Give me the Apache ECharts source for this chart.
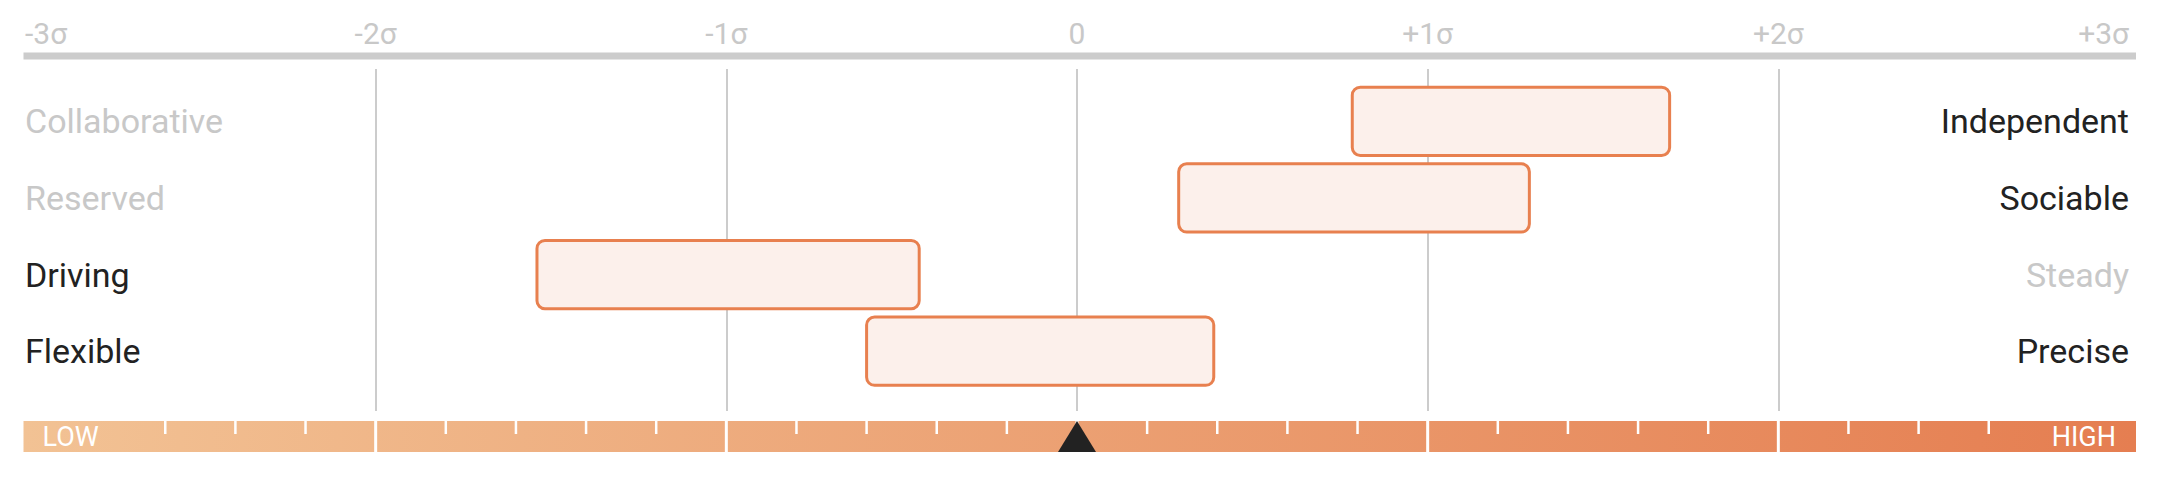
<!DOCTYPE html>
<html><head><meta charset="utf-8">
<script src="https://cdn.jsdelivr.net/npm/echarts@6/dist/echarts.min.js"></script>
<style>html,body{margin:0;padding:0;background:#fff}#c{width:2164px;height:492px}</style>
</head><body><div id="c"></div>
<script>
// ---- data ----
const leftLabels = ['Collaborative', 'Reserved', 'Driving', 'Flexible'];
const rightLabels = ['Independent', 'Sociable', 'Steady', 'Precise'];
const rangeLow = [0.785, 0.29, -1.54, -0.6];
const rangeHigh = [1.69, 1.29, -0.45, 0.39];
const tickValues = [-3, -2, -1, 0, 1, 2, 3];
const tickLabels = ['-3σ', '-2σ', '-1σ', '0', '+1σ', '+2σ', '+3σ'];
const minorTicks = [-2.6, -2.4, -2.2, -1.8, -1.6, -1.4, -1.2, -0.8, -0.6, -0.4, -0.2,
                    0.2, 0.4, 0.6, 0.8, 1.2, 1.4, 1.6, 1.8, 2.2, 2.4, 2.6];
const separators = [-2, -1, 0, 1, 2];
const markerValue = 0;
const scaleEnds = ['LOW', 'HIGH'];

// ---- chart ----
const FONT = 'Roboto';
const chart = echarts.init(document.getElementById('c'), null, {renderer: 'svg'});
const xMin = tickValues[0], xMax = tickValues[tickValues.length - 1];

const option = {
  animation: false,
  backgroundColor: '#fff',
  grid: [
    {left: 25, right: 35, top: 69, bottom: 81},
    {left: 25, right: 35, top: 83, bottom: 102.5},
    {left: 25, right: 35, top: 421, height: 31}
  ],
  xAxis: [
    {
      gridIndex: 0, type: 'value', min: xMin, max: xMax, interval: 1,
      position: 'top', offset: 13,
      axisLine: {show: false}, axisTick: {show: false},
      axisLabel: {
        formatter: v => tickLabels[tickValues.indexOf(v)],
        color: '#c8c8c8', fontSize: 30, fontFamily: FONT, margin: 8,
        alignMinLabel: 'left', alignMaxLabel: 'right'
      },
      splitLine: {show: true, showMinLine: false, showMaxLine: false,
                  lineStyle: {color: '#cccccc', width: 2}}
    },
    {gridIndex: 1, type: 'value', min: xMin, max: xMax, show: false},
    {gridIndex: 2, type: 'value', min: xMin, max: xMax, show: false}
  ],
  yAxis: [
    {gridIndex: 0, type: 'value', min: 0, max: 1, show: false},
    {
      gridIndex: 1, type: 'category', data: leftLabels, inverse: true, position: 'left',
      axisLine: {show: false}, axisTick: {show: false}, splitLine: {show: false},
      axisLabel: {
        inside: true, margin: 0, fontSize: 34, fontFamily: FONT, padding: [3, 0, 0, 0],
        color: (v) => rangeLow[leftLabels.indexOf(v)] < 0 ? '#222222' : '#c8c8c8'
      }
    },
    {
      gridIndex: 1, type: 'category', data: rightLabels, inverse: true, position: 'right',
      axisLine: {show: false}, axisTick: {show: false}, splitLine: {show: false},
      axisLabel: {
        inside: true, margin: 0, fontSize: 34, fontFamily: FONT, padding: [3, 0, 0, 0],
        color: (v) => rangeHigh[rightLabels.indexOf(v)] > 0 ? '#222222' : '#c8c8c8'
      }
    },
    {gridIndex: 2, type: 'value', min: 0, max: 1, show: false}
  ],
  series: [
    {
      // top axis rule
      type: 'custom', xAxisIndex: 0, yAxisIndex: 0,
      data: [[xMin, xMax]],
      encode: {x: [0, 1]},
      renderItem: (params, api) => {
        const a = api.coord([api.value(0), 1]);
        const b = api.coord([api.value(1), 1]);
        const y = params.coordSys.y - 13;
        return {type: 'rect', shape: {x: a[0] - 1.5, y: y - 3.5, width: b[0] - a[0] + 8.5, height: 7},
                style: {fill: '#cccccc'}};
      }
    },
    {
      // range boxes
      type: 'custom', xAxisIndex: 1, yAxisIndex: 1,
      data: leftLabels.map((_, i) => [rangeLow[i], rangeHigh[i], i]),
      encode: {x: [0, 1], y: 2},
      renderItem: (params, api) => {
        const s = api.coord([api.value(0), api.value(2)]);
        const e = api.coord([api.value(1), api.value(2)]);
        const h = api.size([0, 1])[1] * 0.89;
        return {
          type: 'rect',
          shape: {x: s[0], y: s[1] - h / 2, width: e[0] - s[0], height: h, r: 8},
          style: {fill: '#fcf0eb', stroke: '#e8804f', lineWidth: 3}
        };
      }
    },
    {
      // LOW-HIGH scale bar
      type: 'custom', xAxisIndex: 2, yAxisIndex: 3,
      data: [[xMin, xMax]],
      encode: {x: [0, 1]},
      renderItem: (params, api) => {
        const cs = params.coordSys;
        const top = cs.y, h = cs.height, bot = top + h;
        const x0 = api.coord([api.value(0), 0])[0] - 1.5;
        const x1 = api.coord([api.value(1), 0])[0] + 7;
        const children = [];
        children.push({
          type: 'rect', shape: {x: x0, y: top, width: x1 - x0, height: h},
          style: {fill: new echarts.graphic.LinearGradient(0, 0, 1, 0, [
            {offset: 0, color: '#f2c294'}, {offset: 1, color: '#e57e51'}])}
        });
        separators.forEach(v => {
          const x = api.coord([v, 0])[0];
          children.push({type: 'rect', shape: {x: x - 1.5, y: top, width: 3, height: h},
                         style: {fill: '#ffffff'}});
        });
        minorTicks.forEach(v => {
          const x = api.coord([v, 0])[0];
          children.push({type: 'rect', shape: {x: x - 1.25, y: top, width: 2.5, height: 13},
                         style: {fill: '#ffffff'}});
        });
        const cx = api.coord([markerValue, 0])[0];
        children.push({type: 'polygon', shape: {points: [[cx, top], [cx - 19, bot], [cx + 19, bot]]},
                       style: {fill: '#222222'}});
        children.push({type: 'text', x: x0 + 19, y: top + h / 2,
                       style: {text: scaleEnds[0], fill: '#ffffff', fontSize: 27, fontFamily: FONT,
                               align: 'left', verticalAlign: 'middle'}});
        children.push({type: 'text', x: x1 - 20, y: top + h / 2,
                       style: {text: scaleEnds[1], fill: '#ffffff', fontSize: 27, fontFamily: FONT,
                               align: 'right', verticalAlign: 'middle'}});
        return {type: 'group', children};
      }
    }
  ]
};
chart.setOption(option);
</script>
</body></html>
